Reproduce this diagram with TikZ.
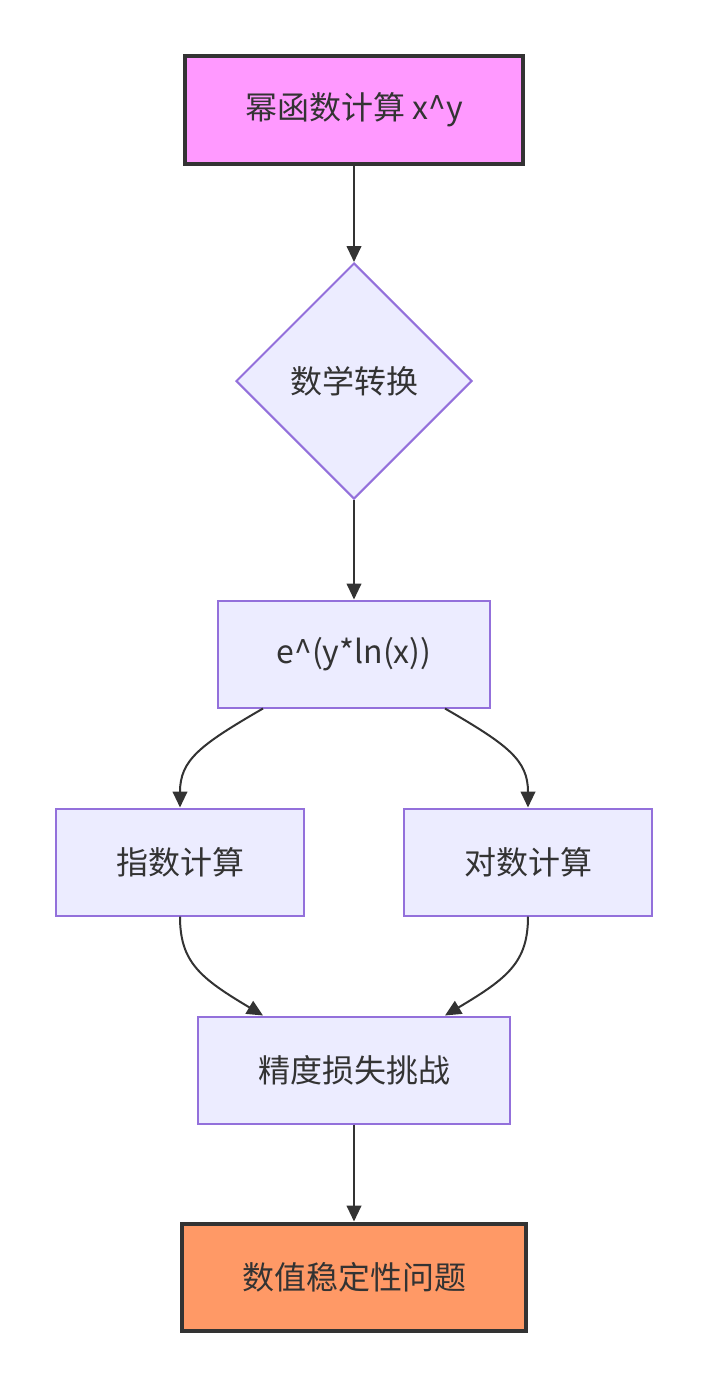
\documentclass[tikz,border=0pt]{standalone}
\usepackage{fontspec}
\setmainfont{Noto Sans CJK SC}
\usetikzlibrary{shapes.geometric,arrows.meta}
\definecolor{txt}{HTML}{333333}
\definecolor{bluefill}{HTML}{ECECFF}
\definecolor{purp}{HTML}{9370DB}
\definecolor{pink}{HTML}{FF99FF}
\definecolor{orng}{HTML}{FF9966}
\tikzset{
  base/.style={font=\fontsize{24pt}{28pt}\selectfont, text=txt, inner sep=0pt},
  box/.style={base, rectangle, fill=bluefill, draw=purp, line width=1.5pt, minimum height=80.25pt},
  hot/.style={base, rectangle, draw=txt, line width=3pt, minimum height=80.25pt},
  dia/.style={base, diamond, fill=bluefill, draw=purp, line width=1.5pt, minimum width=177pt, minimum height=177pt},
  conn/.style={draw=txt, line width=1.5pt, -{Triangle[length=12pt,width=11pt]}},
}
\begin{document}
\begin{tikzpicture}[x=0.75pt,y=-0.75pt]
\useasboundingbox (0,0) rectangle (708,1388);
\node[hot, fill=pink, minimum width=253.5pt] (a) at (354,110) {幂函数计算 x\^{}y};
\node[dia] (b) at (354,381) {数学转换};
\node[box, minimum width=204pt] (c) at (354,654) {e\^{}(y*ln(x))};
\node[box, minimum width=186pt] (d) at (180,862) {指数计算};
\node[box, minimum width=186pt] (e) at (528,862) {对数计算};
\node[box, minimum width=234pt] (f) at (354,1070) {精度损失挑战};
\node[hot, fill=orng, minimum width=258pt] (g) at (354,1277) {数值稳定性问题};
\draw[conn] (a.south) -- (b.north);
\draw[conn] (b.south) -- (c.north);
\draw[conn] ([xshift=-68.25pt]c.south) .. controls (200,745) and (180,760) .. (d.north);
\draw[conn] ([xshift=68.25pt]c.south) .. controls (508,745) and (528,760) .. (e.north);
\draw[conn] (d.south) .. controls (180,962) and (200,978) .. ([xshift=-68.25pt]f.north);
\draw[conn] (e.south) .. controls (528,962) and (508,978) .. ([xshift=68.25pt]f.north);
\draw[conn] (f.south) -- (g.north);
\end{tikzpicture}
\end{document}
